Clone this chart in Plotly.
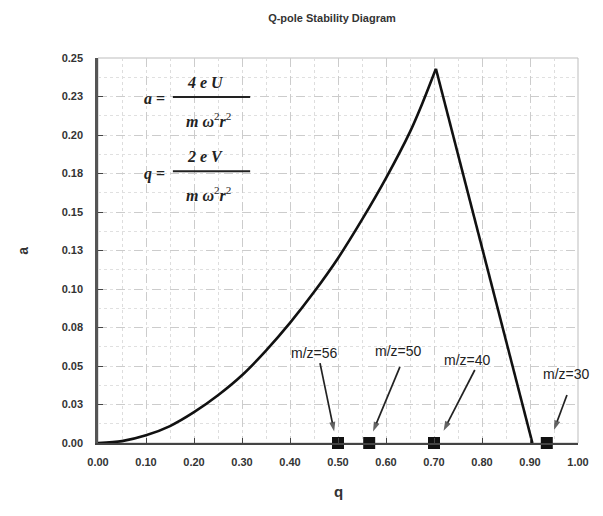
import plotly.graph_objects as go

# ---- data ----
# left (a0) boundary of the stability region
q_left = [0.00, 0.05, 0.10, 0.15, 0.20, 0.25, 0.30, 0.35, 0.40, 0.45, 0.50, 0.55, 0.60, 0.65, 0.675, 0.704]
a_left = [0.000, 0.0012, 0.005, 0.011, 0.020, 0.031, 0.044, 0.060, 0.078, 0.098, 0.120, 0.145, 0.172, 0.202, 0.220, 0.243]
# right (b1) boundary
q_right = [0.704, 0.905]
a_right = [0.243, 0.000]

mz_labels = ["m/z=56", "m/z=50", "m/z=40", "m/z=30"]
mz_q = [0.50, 0.565, 0.70, 0.935]
mz_a = [0.0, 0.0, 0.0, 0.0]

# label centres (data coords)
label_q = [0.452, 0.625, 0.769, 0.977]
label_a = [0.0584, 0.0597, 0.0539, 0.0448]
# arrows: tail and head (data coords)
tail_q = [0.4625, 0.629, 0.785, 0.977]
tail_a = [0.0519, 0.0494, 0.0474, 0.0312]
head_q = [0.492, 0.573, 0.720, 0.950]
head_a = [0.0075, 0.0075, 0.0080, 0.0085]

x_ticks = [0.0, 0.1, 0.2, 0.3, 0.4, 0.5, 0.6, 0.7, 0.8, 0.9, 1.0]
x_ticktext = ["0.00", "0.10", "0.20", "0.30", "0.40", "0.50", "0.60", "0.70", "0.80", "0.90", "1.00"]
y_ticks = [0.0, 0.025, 0.05, 0.075, 0.10, 0.125, 0.15, 0.175, 0.20, 0.225, 0.25]
y_ticktext = ["0.00", "0.03", "0.05", "0.08", "0.10", "0.13", "0.15", "0.18", "0.20", "0.23", "0.25"]

title_text = "Q-pole Stability Diagram"
x_title = "q"
y_title = "a"

fig = go.Figure()

fig.add_trace(go.Scatter(
    x=q_left, y=a_left, mode="lines",
    line=dict(color="#111111", width=2.6, shape="spline", smoothing=0.8),
    hoverinfo="skip", showlegend=False, cliponaxis=False,
))
fig.add_trace(go.Scatter(
    x=q_right, y=a_right, mode="lines",
    line=dict(color="#111111", width=2.6),
    hoverinfo="skip", showlegend=False, cliponaxis=False,
))
fig.add_trace(go.Scatter(
    x=mz_q, y=mz_a, mode="markers",
    marker=dict(symbol="square", size=12, color="#111111"),
    showlegend=False, cliponaxis=False,
))
# arrows from labels to markers
for tq, ta, hq, ha in zip(tail_q, tail_a, head_q, head_a):
    fig.add_trace(go.Scatter(
        x=[tq, hq], y=[ta, ha], mode="lines+markers",
        line=dict(color="#222222", width=1.7),
        marker=dict(symbol=["circle", "arrow"], size=[0, 10], color="#222222",
                    angleref="previous", line=dict(width=0)),
        hoverinfo="skip", showlegend=False, cliponaxis=False,
    ))

sans = "Liberation Sans, Arial, sans-serif"
tickfont = dict(family=sans, size=11, color="#333333")
fig.update_xaxes(
    range=[0, 1], tickvals=x_ticks, ticktext=["<b>%s</b>" % t for t in x_ticktext], tickfont=tickfont,
    ticks="inside", ticklen=5, tickcolor="#444444", tickwidth=1,
    showline=True, linecolor="#444444", linewidth=2,
    showgrid=True, gridcolor="#cccccc", griddash="dash", gridwidth=1,
    minor=dict(dtick=0.05, showgrid=True, gridcolor="#dddddd", griddash="dot", gridwidth=1),
    zeroline=False, ticklabelstandoff=8,
)
fig.update_yaxes(
    range=[0, 0.25], tickvals=y_ticks, ticktext=["<b>%s</b>" % t for t in y_ticktext], tickfont=tickfont,
    ticks="inside", ticklen=5, tickcolor="#444444", tickwidth=1,
    showline=True, linecolor="#555555", linewidth=2.5,
    showgrid=True, gridcolor="#cccccc", griddash="dash", gridwidth=1,
    minor=dict(dtick=0.0125, tick0=0, showgrid=True, gridcolor="#e0e0e0", griddash="dot", gridwidth=1),
    zeroline=False, ticklabelstandoff=10,
)

annotations = []
for lab, lq, la in zip(mz_labels, label_q, label_a):
    annotations.append(dict(x=lq, y=la, xref="x", yref="y", text=lab, showarrow=False,
                            xanchor="center", yanchor="middle",
                            font=dict(family=sans, size=14, color="#222222")))

serif = dict(family="Liberation Serif, Times New Roman, serif", size=16, color="#222222")
den = "<b><i>m ω</i></b><sup>2</sup><b><i>r</i></b><sup>2</sup>"
formula = [
    ("<b><i>a</i> =</b>", 0.117, 0.894),
    ("<b><i>4 e U</i></b>", 0.223, 0.937),
    (den, 0.230, 0.840),
    ("<b><i>q</i> =</b>", 0.117, 0.700),
    ("<b><i>2 e V</i></b>", 0.223, 0.745),
    (den, 0.230, 0.648),
]
for txt, px, py in formula:
    annotations.append(dict(x=px, y=py, xref="paper", yref="paper", text=txt, showarrow=False,
                            xanchor="center", yanchor="middle", font=serif))

annotations += [
    dict(x=-0.158, y=0.50, xref="paper", yref="paper", text="<b>" + y_title + "</b>", showarrow=False,
         xanchor="center", yanchor="middle", textangle=-90,
         font=dict(family=sans, size=14, color="#333333")),
    dict(x=0.5, y=-0.127, xref="paper", yref="paper", text="<b>" + x_title + "</b>", showarrow=False,
         xanchor="center", yanchor="middle",
         font=dict(family=sans, size=15, color="#333333")),
]

shapes = [
    dict(type="rect", xref="paper", yref="paper", x0=0, y0=0, x1=1, y1=1,
         line=dict(color="#bdbdbd", width=1), layer="below"),
    dict(type="line", xref="paper", yref="paper", x0=0.156, x1=0.317, y0=0.899, y1=0.899,
         line=dict(color="#222222", width=2)),
    dict(type="line", xref="paper", yref="paper", x0=0.156, x1=0.317, y0=0.706, y1=0.706,
         line=dict(color="#222222", width=2)),
]

# page body adds an 8px margin; size the figure so it fits the 603x516 window
fig.update_layout(
    width=595, height=508,
    margin=dict(l=90, r=25, t=50, b=73),
    paper_bgcolor="white", plot_bgcolor="white",
    title=dict(text="<b>" + title_text + "</b>", x=324 / 595, xanchor="center",
               y=1 - 10 / 508, yanchor="middle",
               font=dict(family=sans, size=11, color="#333333")),
    annotations=annotations, shapes=shapes, showlegend=False,
)

fig.write_html("out.html")
